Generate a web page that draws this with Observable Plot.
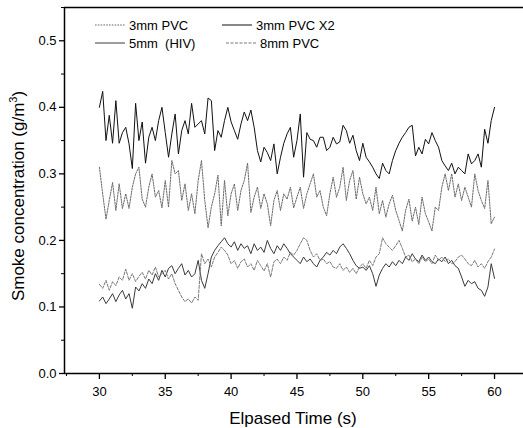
<!DOCTYPE html>
<html>
<head>
<meta charset="utf-8">
<script src="https://cdn.jsdelivr.net/npm/d3@7"></script>
<script src="https://cdn.jsdelivr.net/npm/@observablehq/plot@0.6"></script>
<style>
  html, body { margin: 0; padding: 0; background: #fff; }
  #chart { width: 523px; height: 428px; }
  svg { display: block; }
</style>
</head>
<body>
<div id="chart"></div>
<script>
// ---- data ----
const startTime = 30;      // s
const sampleStep = 0.25;   // s
const seriesNames = ["3mm PVC", "3mm PVC X2", "5mm  (HIV)", "8mm PVC"];

const pvc3 = [
  0.310,0.270,0.232,0.260,0.287,0.245,0.285,0.248,0.270,0.248,0.280,0.300,
  0.310,0.262,0.250,0.280,0.300,0.265,0.275,0.249,0.290,0.250,0.320,0.300,
  0.305,0.260,0.285,0.245,0.270,0.240,0.290,0.320,0.260,0.219,0.250,0.270,
  0.298,0.222,0.290,0.237,0.270,0.285,0.245,0.275,0.290,0.316,0.242,0.265,
  0.280,0.248,0.270,0.255,0.222,0.260,0.275,0.245,0.270,0.262,0.280,0.249,
  0.265,0.280,0.248,0.270,0.285,0.300,0.265,0.275,0.250,0.237,0.270,0.295,
  0.265,0.280,0.310,0.260,0.290,0.305,0.262,0.295,0.270,0.255,0.265,0.245,
  0.280,0.240,0.260,0.235,0.255,0.268,0.245,0.230,0.214,0.245,0.262,0.229,
  0.250,0.224,0.265,0.240,0.228,0.214,0.250,0.245,0.280,0.300,0.275,0.300,
  0.265,0.285,0.260,0.280,0.265,0.250,0.300,0.275,0.260,0.248,0.290,0.225,
  0.235
];
const pvc3x2 = [
  0.400,0.424,0.350,0.388,0.346,0.410,0.346,0.362,0.370,0.345,0.308,0.406,
  0.350,0.378,0.316,0.355,0.370,0.350,0.380,0.400,0.362,0.325,0.360,0.390,
  0.330,0.365,0.380,0.360,0.406,0.370,0.375,0.380,0.360,0.414,0.410,0.335,
  0.365,0.355,0.380,0.400,0.378,0.365,0.352,0.375,0.393,0.380,0.396,0.370,
  0.335,0.318,0.340,0.332,0.320,0.345,0.300,0.325,0.346,0.360,0.370,0.325,
  0.350,0.390,0.295,0.362,0.352,0.350,0.340,0.355,0.355,0.335,0.340,0.355,
  0.345,0.348,0.373,0.365,0.346,0.358,0.335,0.320,0.346,0.325,0.318,0.310,
  0.300,0.293,0.316,0.305,0.300,0.320,0.335,0.346,0.355,0.362,0.370,0.373,
  0.327,0.340,0.330,0.352,0.345,0.362,0.350,0.340,0.320,0.312,0.305,0.316,
  0.300,0.310,0.305,0.300,0.330,0.315,0.320,0.330,0.310,0.367,0.346,0.380,
  0.400
];
const hiv5 = [
  0.109,0.115,0.105,0.112,0.120,0.108,0.118,0.125,0.112,0.120,0.098,0.130,
  0.124,0.135,0.128,0.142,0.135,0.150,0.140,0.155,0.145,0.158,0.162,0.150,
  0.158,0.165,0.148,0.155,0.145,0.150,0.170,0.140,0.128,0.150,0.175,0.185,
  0.192,0.198,0.204,0.195,0.190,0.198,0.185,0.195,0.188,0.192,0.180,0.195,
  0.185,0.190,0.182,0.200,0.188,0.180,0.192,0.185,0.195,0.188,0.180,0.175,
  0.170,0.165,0.175,0.168,0.172,0.165,0.160,0.170,0.175,0.182,0.178,0.185,
  0.180,0.190,0.195,0.188,0.180,0.170,0.162,0.158,0.160,0.155,0.162,0.150,
  0.131,0.148,0.158,0.165,0.160,0.168,0.162,0.170,0.165,0.175,0.170,0.180,
  0.172,0.168,0.178,0.170,0.175,0.168,0.165,0.172,0.168,0.175,0.165,0.170,
  0.162,0.158,0.145,0.131,0.140,0.135,0.138,0.128,0.125,0.116,0.130,0.165,
  0.143
];
const pvc8 = [
  0.134,0.128,0.140,0.125,0.138,0.132,0.145,0.140,0.157,0.140,0.150,0.138,
  0.146,0.152,0.142,0.155,0.148,0.160,0.145,0.150,0.155,0.142,0.150,0.135,
  0.125,0.115,0.108,0.112,0.106,0.115,0.110,0.180,0.165,0.172,0.160,0.175,
  0.182,0.190,0.185,0.178,0.165,0.170,0.158,0.168,0.172,0.160,0.165,0.155,
  0.170,0.162,0.154,0.165,0.145,0.168,0.172,0.165,0.175,0.170,0.182,0.178,
  0.185,0.195,0.204,0.200,0.185,0.175,0.180,0.170,0.172,0.165,0.168,0.160,
  0.158,0.165,0.155,0.160,0.152,0.158,0.150,0.160,0.165,0.158,0.170,0.162,
  0.175,0.180,0.204,0.195,0.190,0.185,0.192,0.200,0.188,0.175,0.178,0.168,
  0.172,0.165,0.175,0.168,0.172,0.165,0.178,0.170,0.175,0.168,0.172,0.165,
  0.168,0.175,0.178,0.172,0.165,0.162,0.170,0.160,0.165,0.158,0.168,0.175,
  0.187
];

const xMajorTicks = [30, 35, 40, 45, 50, 55, 60];
const xMinorTicks = [27.5, 32.5, 37.5, 42.5, 47.5, 52.5, 57.5, 62.5];
const yMajorTicks = [0.0, 0.1, 0.2, 0.3, 0.4, 0.5];
const yMinorTicks = [0.05, 0.15, 0.25, 0.35, 0.45, 0.55];
const xTitle = "Elpased Time (s)";
const yTitle = "Smoke concentration (g/m";

// ---- build table ----
const seriesValues = [pvc3, pvc3x2, hiv5, pvc8];
const styles = {
  "3mm PVC":    {stroke: "#6a6a6a", dash: "1.6,1.2", width: 1},
  "3mm PVC X2": {stroke: "#111111", dash: null, width: 1},
  "5mm  (HIV)": {stroke: "#3a3a3a", dash: null, width: 1},
  "8mm PVC":    {stroke: "#7a7a7a", dash: "3,1.5", width: 1}
};
const rows = [];
seriesNames.forEach((name, k) => {
  seriesValues[k].forEach((v, i) => rows.push({series: name, t: startTime + i * sampleStep, v}));
});

const xDomain = [27.35, 62.2];
const yDomain = [0, 0.55];

const lineMarks = seriesNames.map(name => Plot.line(rows.filter(d => d.series === name), {
  x: "t", y: "v",
  stroke: styles[name].stroke,
  strokeWidth: styles[name].width,
  strokeDasharray: styles[name].dash || undefined,
  curve: "linear"
}));

const chart = Plot.plot({
  width: 523,
  height: 428,
  marginLeft: 64,
  marginRight: 0,
  marginTop: 7,
  marginBottom: 55,
  x: {domain: xDomain},
  y: {domain: yDomain},
  style: {fontFamily: "'Liberation Sans', Arial, sans-serif", fontSize: "13px", color: "#000", background: "#fff"},
  marks: [
    Plot.axisX(xMinorTicks.filter(d => d <= xDomain[1]), {tickSize: 3, tickFormat: () => "", label: null, stroke: "#000"}),
    Plot.axisX(xMajorTicks, {tickSize: 6, tickPadding: 7, label: null, fontSize: 13, stroke: "#000", strokeWidth: 1.3}),
    Plot.axisY(yMinorTicks, {tickSize: 3, tickFormat: () => "", label: null, stroke: "#000"}),
    Plot.axisY(yMajorTicks, {tickSize: 5, tickPadding: 3, tickFormat: d3.format(".1f"), label: null, fontSize: 13, stroke: "#000", strokeWidth: 1.3}),
    ...lineMarks,
    Plot.ruleY([yDomain[0]], {stroke: "#000", strokeWidth: 1.5}),
    Plot.ruleY([yDomain[1]], {stroke: "#000", strokeWidth: 1.5}),
    Plot.ruleX([xDomain[0]], {stroke: "#000", strokeWidth: 1.5})
  ]
});

document.getElementById("chart").appendChild(chart);

// ---- titles and legend (added to the svg) ----
const svg = d3.select(chart);
svg.append("text")
  .attr("x", 293).attr("y", 424)
  .attr("text-anchor", "middle")
  .attr("font-size", 17)
  .attr("fill", "#000")
  .text(xTitle);

const yt = svg.append("text")
  .attr("transform", "translate(24,196) rotate(-90)")
  .attr("text-anchor", "middle")
  .attr("font-size", 17)
  .attr("fill", "#000");
yt.append("tspan").text(yTitle);
yt.append("tspan").attr("font-size", 11).attr("dy", -7).text("3");
yt.append("tspan").attr("dy", 7).text(")");

const legendItems = [
  {name: "3mm PVC",    x: 95,  y: 25},
  {name: "3mm PVC X2", x: 222, y: 25},
  {name: "5mm  (HIV)", x: 95,  y: 43},
  {name: "8mm PVC",    x: 226, y: 43}
];
const lg = svg.append("g").attr("text-anchor", "start");
legendItems.forEach(it => {
  const st = styles[it.name];
  lg.append("line")
    .attr("x1", it.x).attr("x2", it.x + 30)
    .attr("y1", it.y).attr("y2", it.y)
    .attr("stroke", st.stroke).attr("stroke-width", 1)
    .attr("stroke-dasharray", st.dash);
  lg.append("text")
    .attr("x", it.x + 34).attr("y", it.y + 4.5)
    .attr("text-anchor", "start")
    .attr("font-size", 13)
    .attr("fill", "#000")
    .style("white-space", "pre")
    .text(it.name);
});
</script>
</body>
</html>
